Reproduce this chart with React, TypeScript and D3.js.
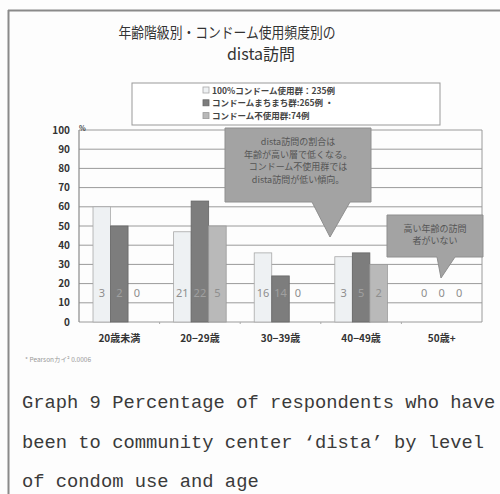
import React from "react";
import * as d3 from "d3";

const categories = ["20歳未満", "20−29歳", "30−39歳", "40−49歳", "50歳+"];
const seriesNames = ["100%コンドーム使用群：235例", "コンドームまちまち群:265例", "コンドーム不使用群:74例"];
const seriesKeys = ["full", "mixed", "none"];
const fullValues = [60, 47, 36, 34, 0];
const mixedValues = [50, 63, 24, 36, 0];
const noneValues = [0, 50, 0, 30, 0];
const fullCounts = ["3", "21", "16", "3", "0"];
const mixedCounts = ["2", "22", "14", "5", "0"];
const noneCounts = ["0", "5", "0", "2", "0"];
const yTicks = [0, 10, 20, 30, 40, 50, 60, 70, 80, 90, 100];
const callout1 = ["dista訪問の割合は", "年齢が高い層で低くなる。", "コンドーム不使用群では", "dista訪問が低い傾向。"];
const callout2 = ["高い年齢の訪問", "者がいない"];
const captionLines = [
  "Graph 9 Percentage of respondents who have",
  "been to community center ‘dista’ by level",
  "of condom use and age",
];

const fills = ["#eef1f3", "#7d7d7d", "#b9b9b9"];
const strokes = ["#a8a8a8", "#666", "#9a9a9a"];

export default function App() {
  const W = 500, H = 494;
  const left = 79, right = 482, top = 130, bottom = 322;
  const x0 = d3.scaleBand<string>().domain(categories).range([left, right]);
  const x1 = d3.scaleBand<string>().domain(seriesKeys).range([0, x0.bandwidth()]).paddingInner(0).paddingOuter(0.8);
  const y = d3.scaleLinear().domain([0, 100]).range([bottom, top]);
  const values = [fullValues, mixedValues, noneValues];
  const counts = [fullCounts, mixedCounts, noneCounts];
  const jp = "'Noto Sans CJK JP', 'Noto Sans', sans-serif";

  return (
    <svg width={W} height={H} style={{ position: "absolute", left: 0, top: 0, background: "#fdfdfd" }}>
      <rect x={0} y={0} width={W} height={H} fill="#fdfdfd" />
      {/* frame */}
      <line x1={8.5} y1={10} x2={8.5} y2={H} stroke="#8a8a8a" strokeWidth={2} />
      <line x1={8} y1={10.5} x2={W} y2={10.5} stroke="#8a8a8a" strokeWidth={2} />

      {/* title */}
      <text x={227} y={38} textAnchor="middle" fontFamily={jp} fontSize={14.5} fill="#333" textLength={217} lengthAdjust="spacingAndGlyphs">
        年齢階級別・コンドーム使用頻度別の
      </text>
      <text x={261} y={60} textAnchor="middle" fontFamily={jp} fontSize={16} fill="#333">
        dista訪問
      </text>

      {/* legend */}
      <rect x={132} y={83} width={308} height={42} fill="#fff" stroke="#999" strokeWidth={1} />
      {seriesNames.map((n, i) => (
        <g key={n}>
          <rect x={203} y={87 + i * 12.8} width={6} height={6} fill={fills[i]} stroke={strokes[i]} strokeWidth={0.8} />
          <text x={212} y={93.5 + i * 12.8} fontFamily={jp} fontSize={8.5} fontWeight="bold" fill="#444">
            {n}
            {i === 1 ? "  ・" : ""}
          </text>
        </g>
      ))}

      {/* gridlines */}
      {yTicks.map((t) => (
        <line key={t} x1={left} x2={right} y1={y(t)} y2={y(t)} stroke="#9a9a9a" strokeWidth={1} />
      ))}
      <line x1={left} x2={left} y1={top} y2={bottom} stroke="#8a8a8a" strokeWidth={1.2} />
      <line x1={right} x2={right} y1={top} y2={bottom} stroke="#9a9a9a" strokeWidth={1} />
      {yTicks.map((t) => (
        <text key={t} x={70} y={y(t) + 3.5} textAnchor="end" fontFamily={jp} fontSize={10} fontWeight="bold" fill="#333">
          {t}
        </text>
      ))}
      <text x={79} y={131} fontFamily={jp} fontSize={7} fontWeight="bold" fill="#444">%</text>

      {/* bars */}
      {categories.map((c, ci) => (
        <g key={c} transform={`translate(${x0(c)},0)`}>
          {seriesKeys.map((k, si) =>
            values[si][ci] > 0 ? (
              <rect key={k} x={x1(k)} y={y(values[si][ci])} width={x1.bandwidth()} height={bottom - y(values[si][ci])}
                fill={fills[si]} stroke={strokes[si]} strokeWidth={0.8} />
            ) : null
          )}
          {seriesKeys.map((k, si) => (
            <text key={k + "c"} x={(x1(k) as number) + x1.bandwidth() / 2} y={y(15) + 4} textAnchor="middle"
              fontFamily="'Noto Sans', sans-serif" fontSize={11} fill={si === 1 && values[si][ci] > 0 ? "#a0a0a0" : "#8e8e8e"}>
              {counts[si][ci]}
            </text>
          ))}
          <text x={x0.bandwidth() / 2} y={342} textAnchor="middle" fontFamily={jp} fontSize={10} fontWeight="bold" fill="#333">
            {c}
          </text>
        </g>
      ))}
      {categories.slice(1).map((c) => (
        <line key={c} x1={x0(c)} x2={x0(c)} y1={bottom} y2={bottom + 2} stroke="#aaa" />
      ))}

      {/* callout 1 */}
      <path d="M225,128 L371,128 L371,202 L350,202 L330,237 L312,202 L225,202 Z" fill="#a3a3a3" stroke="#8f8f8f" strokeWidth={1} />
      {callout1.map((s, i) => (
        <text key={s} x={298} y={145 + i * 12.5} textAnchor="middle" fontFamily={jp} fontSize={9} fill="#555">{s}</text>
      ))}
      {/* callout 2 */}
      <path d="M387,215 L483,215 L483,257 L455,257 L441,278 L437,257 L387,257 Z" fill="#a3a3a3" stroke="#8f8f8f" strokeWidth={1} />
      {callout2.map((s, i) => (
        <text key={s} x={435} y={232 + i * 12} textAnchor="middle" fontFamily={jp} fontSize={9} fill="#555">{s}</text>
      ))}

      {/* footnote */}
      <text x={25} y={362} fontFamily={jp} fontSize={6.5} fill="#999">* Pearsonカイ² 0.0006</text>

      {/* caption */}
      {captionLines.map((s, i) => (
        <text key={s} x={22} y={408 + i * 39.5} fontFamily="'Liberation Mono', 'DejaVu Sans Mono', monospace" fontSize={18.8} fill="#3a3a3a">
          {s}
        </text>
      ))}
    </svg>
  );
}
